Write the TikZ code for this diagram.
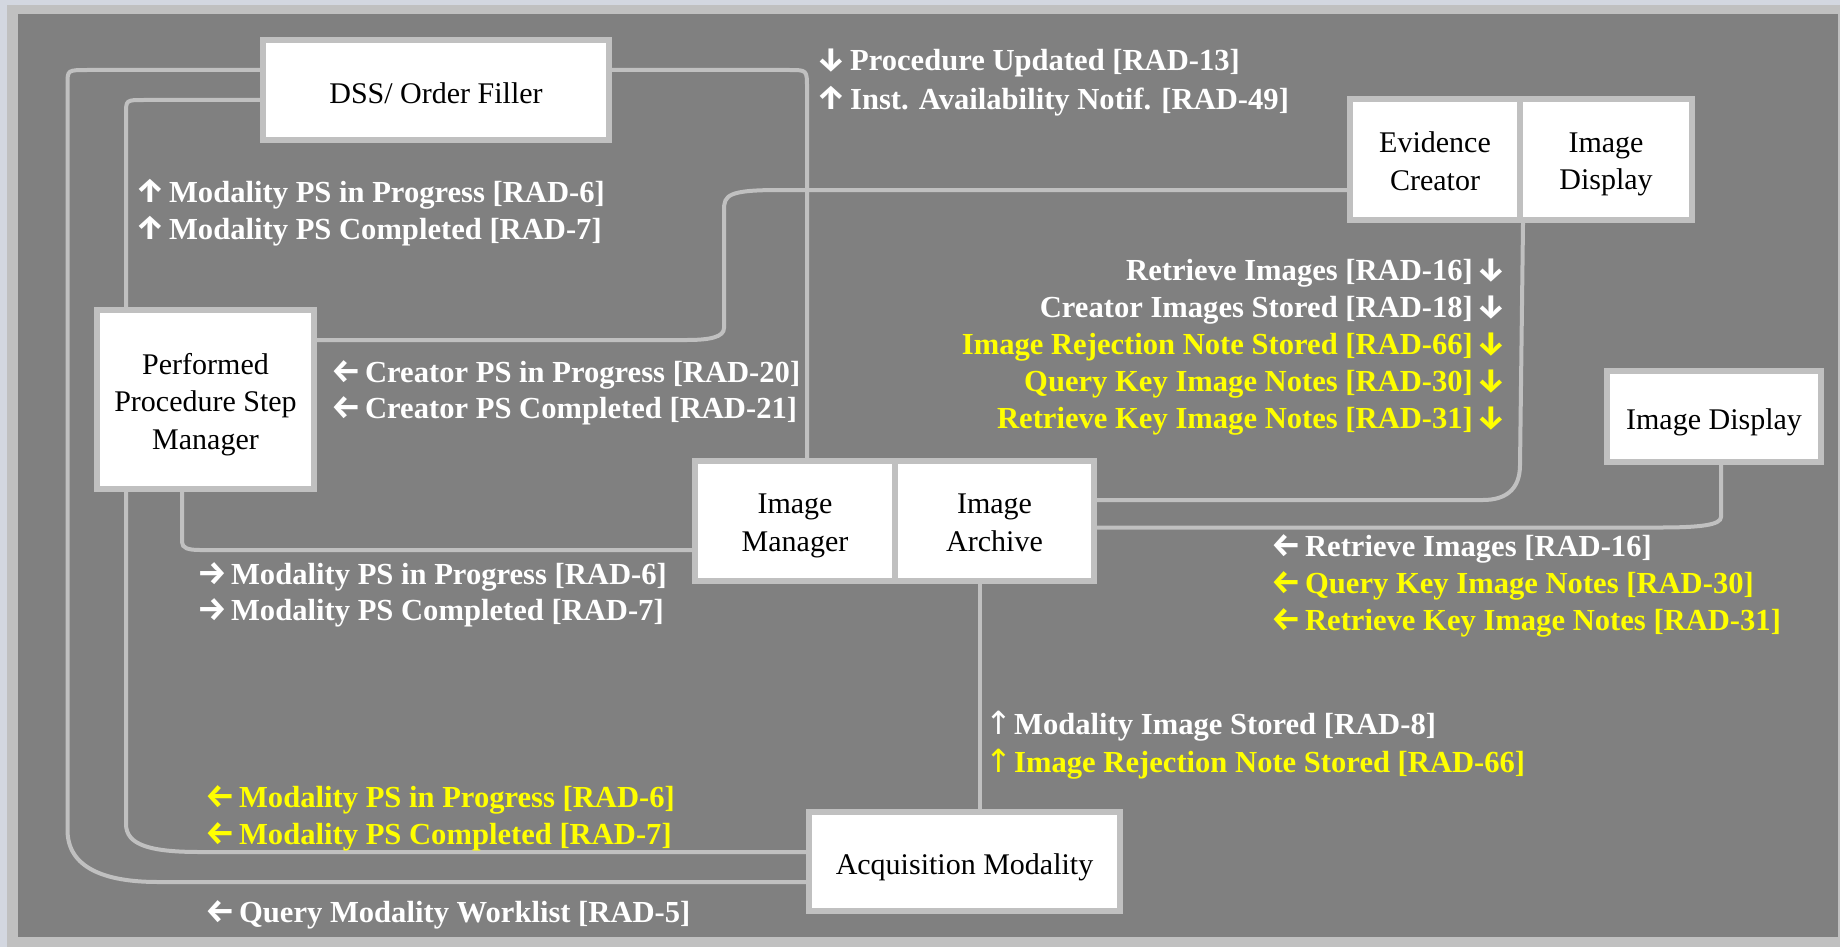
\documentclass[tikz,border=0pt]{standalone}
\usepackage{fontspec}
\setmainfont{Liberation Serif}
\newfontfamily\arrowfont{DejaVu Sans}
\newfontfamily\firaarrow{Fira Sans}
\definecolor{bgdark}{HTML}{808080}
\definecolor{lgrey}{HTML}{C0C0C0}
\definecolor{edgeblue}{HTML}{D3D7E0}
\definecolor{yel}{HTML}{FFFF00}
\newcommand{\barr}[1]{{\firaarrow\bfseries\fontsize{16.5}{16.5}\selectfont #1}}
\newcommand{\tarr}[1]{{\arrowfont\mdseries\fontsize{16}{16}\selectfont #1}}
\begin{document}
\begin{tikzpicture}[x=0.5pt,y=-0.5pt,
  actor/.style={draw=lgrey, line width=3pt, fill=white, inner sep=0pt},
  boxtext/.style={inner sep=0pt, font=\fontsize{15}{18.75}\selectfont, align=center, text=black, text depth=2.4pt},
  link/.style={draw=lgrey, line width=2pt},
  lab/.style={font=\bfseries\fontsize{15.3}{18}\selectfont, text=white, inner sep=0pt, anchor=base west},
  ylab/.style={lab, text=yel},
  rlab/.style={lab, anchor=base east},
  rylab/.style={ylab, anchor=base east}]
% frame
\fill[edgeblue] (0,0) rectangle (1840,947);
\fill[lgrey] (7,5) rectangle (1840,947);
\fill[bgdark] (18,14) rectangle (1838,937);
\useasboundingbox (0,0) rectangle (1840,947);
% actors
\node[actor, minimum width=173pt, minimum height=50pt] (dss) at (436,90) {};
\node[actor, minimum width=108.5pt, minimum height=89.5pt] (ppsm) at (205.5,399.5) {};
\node[actor, minimum width=85pt, minimum height=60.5pt] (ec) at (1435,159.5) {};
\node[actor, minimum width=86pt, minimum height=60.5pt] (idt) at (1606,159.5) {};
\node[actor, minimum width=107pt, minimum height=45.5pt] (idr) at (1714,416.5) {};
\node[actor, minimum width=100pt, minimum height=60pt] (im) at (795,521) {};
\node[actor, minimum width=99.5pt, minimum height=60pt] (ia) at (994.5,521) {};
\node[actor, minimum width=155.5pt, minimum height=49.5pt] (am) at (964.5,861.5) {};
\node[boxtext] (dsst) at ([yshift=-2.5pt]dss.center) {DSS/ Order Filler};
\node[boxtext] (idrt) at ([yshift=-2.5pt]idr.center) {Image Display};
\node[boxtext] (amt) at ([yshift=-2.5pt]am.center) {Acquisition Modality};
\node[boxtext] (ppsmt) at ([yshift=-2pt]ppsm.center) {Performed\\Procedure Step\\Manager};
\node[boxtext] (ect) at ([yshift=-2pt]ec.center) {Evidence\\Creator};
\node[boxtext] (idtt) at ([yshift=-2pt]idt.center) {Image\\Display};
\node[boxtext] (imt) at ([yshift=-2pt]im.center) {Image\\Manager};
\node[boxtext] (iat) at ([yshift=-2pt]ia.center) {Image\\Archive};
% connectors
\draw[link] ([yshift=10pt]dss.west) -- (88,70) .. controls (67.5,70) .. (67.5,84) -- (67.5,830) .. controls (67.5,868) and (105,882) .. (158,882) -- ([yshift=-10.25pt]am.west);
\draw[link] ([yshift=-5pt]dss.west) -- (144,100) .. controls (126,100) .. (126,114) -- ([xshift=-39.75pt]ppsm.north);
\draw[link] ([xshift=-39.75pt]ppsm.south) -- (126,824) .. controls (126,845) and (150,852) .. (200,852) -- ([yshift=4.75pt]am.west);
\draw[link] ([xshift=-11.75pt]ppsm.south) -- (182,542) .. controls (182,548) and (188,550) .. (200,550) -- ([yshift=-14.5pt]im.west);
\draw[link] ([yshift=10pt]dss.east) -- (789,70) .. controls (807,70) .. (807,88) -- ([xshift=6pt]im.north);
\draw[link] ([yshift=-15.25pt]ec.west) -- (780,190) .. controls (728,190) and (724,195) .. (724,210) -- (724,328) .. controls (724,337) and (710,340) .. (687,340) -- ([yshift=29.75pt]ppsm.east);
\draw[link] (ec.south east) -- (1520,465) .. controls (1520,490) and (1505,500) .. (1483,500) -- ([yshift=10.5pt]ia.east);
\draw[link] ([xshift=3.5pt]idr.south) -- (1721,517) .. controls (1721,525) and (1700,527.5) .. (1660,527.5) -- ([yshift=-3.25pt]ia.east);
\draw[link] ([xshift=-7.25pt]ia.south) coordinate (iab) -- (iab |- am.north);
% labels
\node[lab] (l1) at (816,71) {\barr{↓}\hspace{2pt}Procedure Updated [RAD-13]};
\node[lab] (l2) at (816,110) {\barr{↑}\hspace{2pt}Inst. Availability Notif. [RAD-49]};
\node[lab] (l3) at (135,202) {\barr{↑}\hspace{2pt}Modality PS in Progress [RAD-6]};
\node[lab] (l4) at (135,239) {\barr{↑}\hspace{2pt}Modality PS Completed [RAD-7]};
\node[lab] (l5) at (331,382) {\barr{←}\hspace{2pt}Creator PS in Progress [RAD-20]};
\node[lab] (l6) at (331,418) {\barr{←}\hspace{2pt}Creator PS Completed [RAD-21]};
\node[rlab] (r1) at (1507,280) {Retrieve Images [RAD-16]\hspace{2pt}\barr{↓}};
\node[rlab] (r2) at (1507,317) {Creator Images Stored [RAD-18]\hspace{2pt}\barr{↓}};
\node[rylab] (r3) at (1507,354) {Image Rejection Note Stored [RAD-66]\hspace{2pt}\barr{↓}};
\node[rylab] (r4) at (1507,391) {Query Key Image Notes [RAD-30]\hspace{2pt}\barr{↓}};
\node[rylab] (r5) at (1507,428) {Retrieve Key Image Notes [RAD-31]\hspace{2pt}\barr{↓}};
\node[lab] (m1) at (197,584) {\barr{→}\hspace{2pt}Modality PS in Progress [RAD-6]};
\node[lab] (m2) at (197,620) {\barr{→}\hspace{2pt}Modality PS Completed [RAD-7]};
\node[lab] (k1) at (1271,556) {\barr{←}\hspace{2pt}Retrieve Images [RAD-16]};
\node[ylab] (k2) at (1271,593) {\barr{←}\hspace{2pt}Query Key Image Notes [RAD-30]};
\node[ylab] (k3) at (1271,630) {\barr{←}\hspace{2pt}Retrieve Key Image Notes [RAD-31]};
\node[lab] (s1) at (985,734) {\tarr{↑}\hspace{1pt}Modality Image Stored [RAD-8]};
\node[ylab] (s2) at (985,772) {\tarr{↑}\hspace{1pt}Image Rejection Note Stored [RAD-66]};
\node[ylab] (y1) at (205,807) {\barr{←}\hspace{2pt}Modality PS in Progress [RAD-6]};
\node[ylab] (y2) at (205,844) {\barr{←}\hspace{2pt}Modality PS Completed [RAD-7]};
\node[lab] (q1) at (205,922) {\barr{←}\hspace{2pt}Query Modality Worklist [RAD-5]};
\end{tikzpicture}
\end{document}
